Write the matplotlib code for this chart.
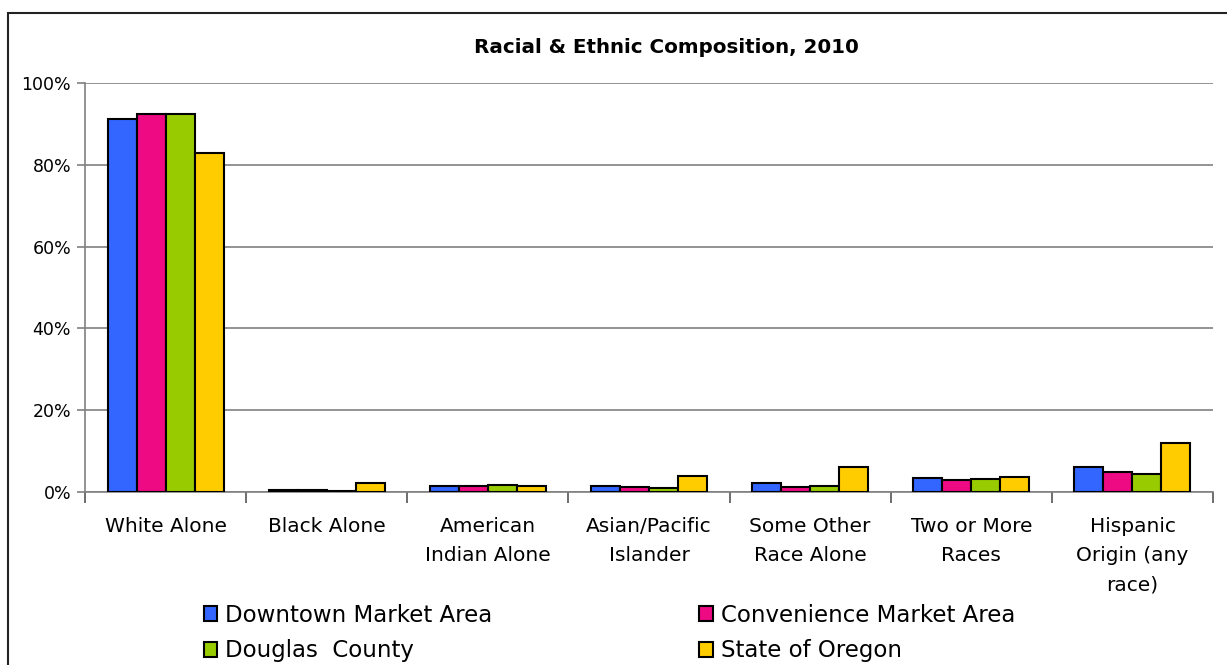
import matplotlib
matplotlib.use("Agg")
import matplotlib.pyplot as plt
import matplotlib.ticker as mtick
import numpy as np

categories = ["White Alone", "Black Alone", "American\nIndian Alone", "Asian/Pacific\nIslander",
              "Some Other\nRace Alone", "Two or More\nRaces", "Hispanic\nOrigin (any\nrace)"]
series_names = ["Downtown Market Area", "Convenience Market Area", "Douglas  County", "State of Oregon"]
downtown = [91.2, 0.6, 1.5, 1.5, 2.3, 3.3, 6.1]
convenience = [92.4, 0.4, 1.5, 1.2, 1.3, 2.9, 4.8]
douglas = [92.3, 0.2, 1.7, 0.9, 1.4, 3.2, 4.5]
oregon = [82.9, 2.1, 1.4, 4.0, 6.1, 3.6, 12.0]
colors = ["#3366FF", "#EE0A82", "#99CC00", "#FFCC00"]

plt.rcParams['font.family'] = ['DejaVu Sans']

fig = plt.figure(figsize=(12.27, 6.65), dpi=100)
ax = fig.add_axes([0.0693, 0.2602, 0.9193, 0.615])

x = np.arange(len(categories))
w = 0.18
bars = []
for i, (vals, name, c) in enumerate(zip([downtown, convenience, douglas, oregon], series_names, colors)):
    b = ax.bar(x + (i - 1.5) * w, vals, width=w, color=c, edgecolor="black", linewidth=1.5,
               label=name, zorder=3)
    bars.append(b)

ax.set_xlim(-0.5, len(categories) - 0.5)
ax.set_ylim(0, 100)
ax.yaxis.set_major_locator(mtick.MultipleLocator(20))
ax.yaxis.set_major_formatter(mtick.PercentFormatter(100, 0))
ax.grid(axis="y", color="#808080", linewidth=1.2, zorder=0)

ax.set_xticks(x)
ax.set_xticklabels(categories, fontsize=14.5, linespacing=1.68, va="top")
ax.set_xticks(np.arange(len(categories) + 1) - 0.5, minor=True)
ax.tick_params(axis="x", which="major", length=0, pad=18)
ax.tick_params(axis="x", which="minor", length=8, width=1.2, color="#555555")
ax.tick_params(axis="y", length=6, width=1.2, color="#808080", labelsize=12.5, pad=4)

for s in ["top", "right"]:
    ax.spines[s].set_visible(False)
ax.spines["left"].set_color("#808080")
ax.spines["left"].set_linewidth(1.2)
ax.spines["bottom"].set_color("#808080")
ax.spines["bottom"].set_linewidth(1.2)

fig.text(0.543, 0.929, "Racial & Ethnic Composition, 2010", ha="center", va="center",
         fontsize=14.3, fontweight="bold")

# row-wise legend order: Downtown, Convenience / Douglas, Oregon
order = [0, 2, 1, 3]
fig.legend([bars[i] for i in order], [series_names[i] for i in order],
           loc="upper left", bbox_to_anchor=(0.166, 0.092), ncol=2, frameon=False,
           fontsize=16.5, handlelength=0.6, handleheight=0.6, handletextpad=0.35,
           columnspacing=9.0, labelspacing=0.55, borderaxespad=0, borderpad=0)

# outer chart border
fig.patches.append(plt.Rectangle((8 / 1227, -0.1), 1.2, 1 - 13 / 665 + 0.1, transform=fig.transFigure,
                                 fill=False, edgecolor="#222222", linewidth=1.5))

fig.savefig("out.png", dpi=100)
